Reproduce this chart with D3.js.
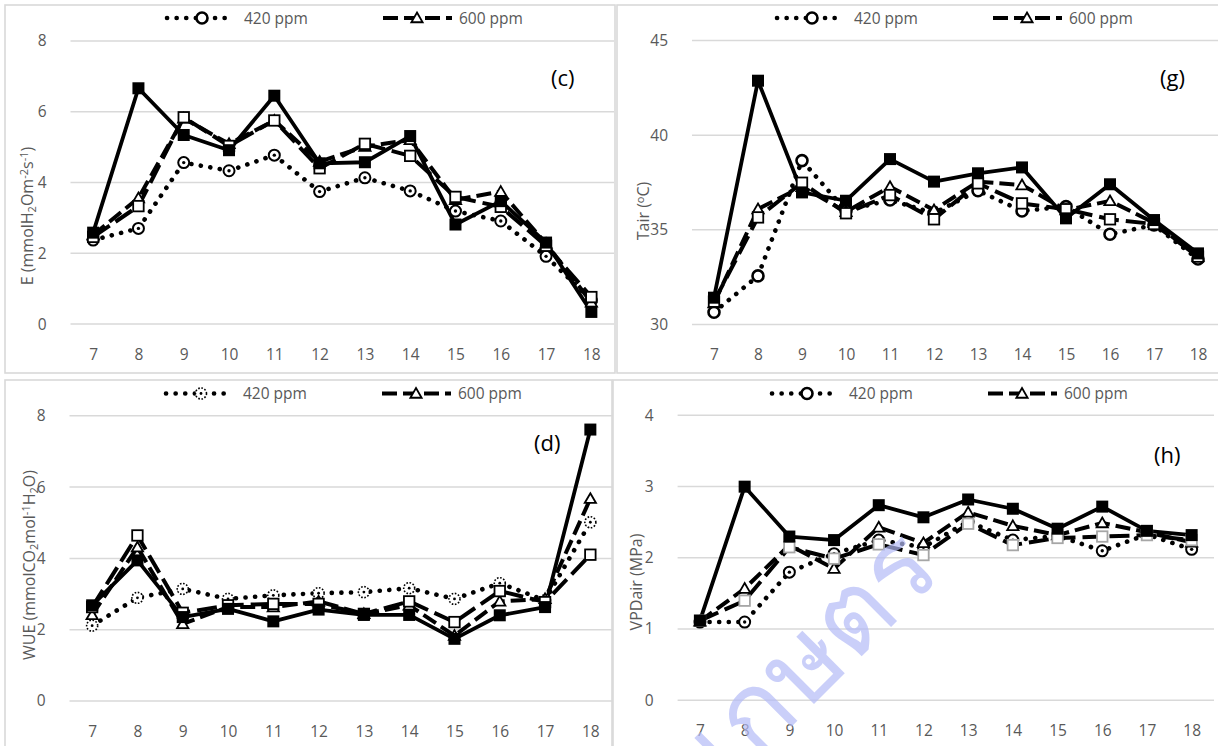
<!DOCTYPE html>
<html><head><meta charset="utf-8">
<script src="https://cdn.jsdelivr.net/npm/d3@7"></script>
<style>
html,body{margin:0;padding:0;background:#fff;}
svg{display:block;}
text{font-family:"Open Sans","Noto Sans",sans-serif;}
</style></head>
<body>
<svg id="c" width="1218" height="746"></svg>
<script>
// ---------- data ----------
const hours = [7,8,9,10,11,12,13,14,15,16,17,18];
const legendLabels = ["420 ppm","600 ppm"];

// (c) E (mmol H2O m-2 s-1)
const e420      = [2.36,2.69,4.55,4.32,4.76,3.73,4.12,3.75,3.18,2.90,1.90,0.66];
const e600      = [2.50,3.55,5.80,5.08,5.74,4.58,5.00,5.19,3.50,3.73,2.26,0.60];
const eOpenSq   = [2.45,3.32,5.83,5.02,5.74,4.39,5.08,4.74,3.58,3.30,2.20,0.75];
const eFilledSq = [2.57,6.65,5.33,4.90,6.44,4.53,4.56,5.30,2.80,3.46,2.29,0.33];
const eTicks = [0,2,4,6,8];

// (g) Tair (°C)
const tair420      = [30.62,32.54,38.63,35.99,36.55,35.85,37.04,35.97,36.20,34.74,35.23,33.43];
const tair600      = [31.10,36.07,37.25,35.93,37.25,36.02,37.52,37.34,36.02,36.50,35.35,33.56];
const tairOpenSq   = [31.18,35.63,37.46,35.85,36.81,35.53,37.43,36.37,36.06,35.53,35.28,33.56];
const tairFilledSq = [31.39,42.85,36.95,36.51,38.71,37.52,37.96,38.27,35.58,37.38,35.49,33.73];
const tairTicks = [30,35,40,45];

// (d) WUE
const wue420      = [2.10,2.88,3.13,2.85,2.95,3.01,3.04,3.15,2.85,3.29,2.81,5.00];
const wue600      = [2.40,4.30,2.15,2.62,2.62,2.78,2.43,2.67,1.82,2.78,2.85,5.66];
const wueOpenSq   = [2.62,4.63,2.46,2.67,2.71,2.71,2.43,2.78,2.20,3.07,2.76,4.09];
const wueFilledSq = [2.67,3.93,2.34,2.57,2.22,2.55,2.40,2.40,1.73,2.39,2.62,7.60];
const wueTicks = [0,2,4,6,8];

// (h) VPDair (MPa)
const vpd420      = [1.09,1.09,1.79,2.05,2.24,2.14,2.50,2.24,2.30,2.09,2.32,2.11];
const vpd600      = [1.10,1.56,2.17,1.84,2.42,2.20,2.63,2.44,2.31,2.48,2.35,2.21];
const vpdOpenSq   = [1.11,1.39,2.14,1.98,2.18,2.03,2.47,2.17,2.27,2.29,2.31,2.24];
const vpdFilledSq = [1.11,2.99,2.29,2.24,2.73,2.56,2.81,2.68,2.40,2.71,2.37,2.31];
const vpdTicks = [0,1,2,3,4];

const watermarkText = "เกษตร";

// ---------- drawing ----------
const svg = d3.select("#c");
const GRID = "#d9d9d9", TXT = "#595959";

const panels = [
  {box:[5,5,615,373], x:[70.5,614], y:[323.6,40.5], dom:[0,8], ticks:eTicks,
   s:[e420,e600,eOpenSq,eFilledSq], tag:"(c)", tagPos:[551,86], legX:167, legY:18,
   circ:"dot", sqCol:"#000", title:[{t:"E (mmolH"},{t:"2",sub:1},{t:"Om"},{t:"-2",sup:1},{t:"s"},{t:"-1",sup:1},{t:")"}], titlePos:[33,216]},
  {box:[617,5,1230,373], x:[692,1220], y:[324,40], dom:[30,45], ticks:tairTicks,
   s:[tair420,tair600,tairOpenSq,tairFilledSq], tag:"(g)", tagPos:[1160,86], legX:777, legY:18,
   circ:"plain", sqCol:"#000", title:[{t:"Tair ("},{t:"o",sup:1},{t:"C)"}], titlePos:[649,211]},
  {box:[5,380,612,760], x:[69.5,613], y:[700.5,415.3], dom:[0,8], ticks:wueTicks,
   s:[wue420,wue600,wueOpenSq,wueFilledSq], tag:"(d)", tagPos:[534,451], legX:166, legY:393.5,
   circ:"dotted", sqCol:"#000", title:[{t:"WUE (mmolCO"},{t:"2",sub:1},{t:"mol"},{t:"-1",sup:1},{t:"H"},{t:"2",sub:1},{t:"O)"}], titlePos:[35,565]},
  {box:[613,380,1230,760], x:[677.6,1214], y:[699.7,414.7], dom:[0,4], ticks:vpdTicks,
   s:[vpd420,vpd600,vpdOpenSq,vpdFilledSq], tag:"(h)", tagPos:[1154,463], legX:772, legY:393.5,
   circ:"dot", sqCol:"#a6a6a6", title:[{t:"VPDair (MPa)"}], titlePos:[642,582]}
];

const styles = [
  {dash:"0.1,9.5", w:4.6, cap:"round"},
  {dash:"15,6", w:4, cap:"butt"},
  {dash:"20,7", w:4, cap:"butt"},
  {dash:null, w:3.8, cap:"butt"}
];

function drawCircle(g, cx, cy, type){
  if(type==="plain"){
    g.append("circle").attr("cx",cx).attr("cy",cy).attr("r",5.5).attr("fill","#fff").attr("stroke","#000").attr("stroke-width",2.6);
  } else if(type==="dotted"){
    g.append("circle").attr("cx",cx).attr("cy",cy).attr("r",5.5).attr("fill","#fff").attr("stroke","#000").attr("stroke-width",1.6).attr("stroke-dasharray","1.6,1.6");
    g.append("circle").attr("cx",cx).attr("cy",cy).attr("r",1.4).attr("fill","#000");
  } else {
    g.append("circle").attr("cx",cx).attr("cy",cy).attr("r",5.5).attr("fill","#fff").attr("stroke","#000").attr("stroke-width",2);
    g.append("circle").attr("cx",cx).attr("cy",cy).attr("r",1.7).attr("fill","#000");
  }
}
function drawTri(g,cx,cy){
  g.append("path").attr("d",d3.symbol(d3.symbolTriangle,55)()).attr("transform",`translate(${cx},${cy+1})`)
   .attr("fill","#fff").attr("stroke","#000").attr("stroke-width",1.8);
}
function drawSq(g,cx,cy,col,filled){
  const s = filled?12:10.5;
  g.append("rect").attr("x",cx-s/2).attr("y",cy-s/2).attr("width",s).attr("height",s)
   .attr("fill",filled?"#000":"#fff").attr("stroke",filled?"#000":col).attr("stroke-width",filled?0:1.8);
}

panels.forEach(p=>{
  const g = svg.append("g");
  const [bx0,by0,bx1,by1] = p.box;
  g.append("rect").attr("x",bx0).attr("y",by0).attr("width",bx1-bx0).attr("height",by1-by0)
    .attr("fill","#fff").attr("stroke",GRID).attr("stroke-width",1.6);

  const x = d3.scalePoint().domain(hours).range(p.x).padding(0.5);
  const y = d3.scaleLinear().domain(p.dom).range(p.y);

  // gridlines + y labels
  const yAxis = d3.axisLeft(y).tickValues(p.ticks).tickSize(-(p.x[1]-p.x[0])).tickPadding(24).tickFormat(d3.format("d"));
  const ya = g.append("g").attr("transform",`translate(${p.x[0]},0)`).call(yAxis);
  ya.select(".domain").remove();
  ya.selectAll("line").attr("stroke",GRID).attr("stroke-width",1.5);
  ya.selectAll("text").attr("fill",TXT).attr("font-size",15.5).attr("dy","0.35em").attr("font-family","Open Sans");

  // x labels
  const xAxis = d3.axisBottom(x).tickSize(0).tickPadding(0);
  const xa = g.append("g").attr("transform",`translate(0,${p.y[0]+36})`).call(xAxis);
  xa.select(".domain").remove();
  xa.selectAll("text").attr("fill",TXT).attr("font-size",15.5).attr("dy",0).attr("font-family","Open Sans");

  // lines
  const line = d3.line().x((d,i)=>x(hours[i])).y(d=>y(d));
  p.s.forEach((arr,k)=>{
    const st = styles[k];
    const path = g.append("path").datum(arr).attr("d",line).attr("fill","none")
      .attr("stroke","#000").attr("stroke-width",st.w).attr("stroke-linecap",st.cap).attr("stroke-linejoin","round");
    if(st.dash) path.attr("stroke-dasharray",st.dash);
  });
  // markers
  p.s.forEach((arr,k)=>{
    const mg = g.append("g");
    arr.forEach((v,i)=>{
      const cx=x(hours[i]), cy=y(v);
      if(k===0) drawCircle(mg,cx,cy,p.circ);
      else if(k===1) drawTri(mg,cx,cy);
      else if(k===2) drawSq(mg,cx,cy,p.sqCol,false);
      else drawSq(mg,cx,cy,"#000",true);
    });
  });

  // legend
  const lg = g.append("g");
  const lx = p.legX, ly = p.legY;
  lg.append("line").attr("x1",lx).attr("x2",lx+64).attr("y1",ly).attr("y2",ly)
    .attr("stroke","#000").attr("stroke-width",4.6).attr("stroke-linecap","round").attr("stroke-dasharray","0.1,9.5");
  drawCircle(lg,lx+35,ly,p.circ==="dotted"?"dotted":"plain");
  lg.append("text").attr("x",lx+77).attr("y",ly+5.5).attr("fill",TXT).attr("font-size",15.5).text(legendLabels[0]);
  lg.append("line").attr("x1",lx+216).attr("x2",lx+285).attr("y1",ly).attr("y2",ly)
    .attr("stroke","#000").attr("stroke-width",4).attr("stroke-dasharray","15,6");
  drawTri(lg,lx+250,ly);
  lg.append("text").attr("x",lx+292).attr("y",ly+5.5).attr("fill",TXT).attr("font-size",15.5).text(legendLabels[1]);

  // panel tag
  g.append("text").attr("x",p.tagPos[0]).attr("y",p.tagPos[1]).attr("font-size",22).attr("fill","#000").text(p.tag);

  // y title
  const t = g.append("text").attr("transform",`translate(${p.titlePos[0]},${p.titlePos[1]}) rotate(-90)`)
    .attr("text-anchor","middle").attr("fill",TXT).attr("font-size",16);
  p.title.forEach(part=>{
    const ts = t.append("tspan").text(part.t);
    if(part.sub) ts.attr("font-size",11).attr("baseline-shift","-25%");
    if(part.sup) ts.attr("font-size",11).attr("baseline-shift","45%");
  });
});

// watermark
svg.append("text").attr("transform","translate(944,574) rotate(-45)")
  .attr("text-anchor","end").attr("font-size",108).attr("fill","#b4bbf6").attr("fill-opacity",0.7)
  .attr("font-family","'Noto Sans Thai','Noto Sans','DejaVu Sans',sans-serif").text(watermarkText);
</script>
</body></html>
